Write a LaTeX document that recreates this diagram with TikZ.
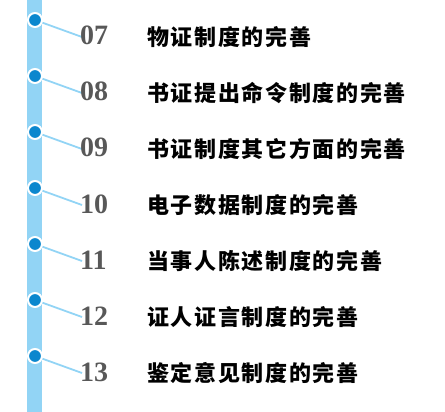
\documentclass[tikz,border=0pt]{standalone}
\usepackage{fontspec}
\newfontfamily\cjk[LetterSpace=7.5]{Noto Sans CJK SC}
\setmainfont{Liberation Serif}
\definecolor{barblue}{HTML}{92D4F5}
\definecolor{dotblue}{HTML}{0B87CE}
\definecolor{numgray}{HTML}{585858}
\begin{document}
\begin{tikzpicture}[x=1pt,y=-1pt,
  numlabel/.style={anchor=base west,inner sep=0pt,text=numgray,font=\fontsize{28}{28}\selectfont\bfseries},
  itemtext/.style={anchor=west,inner sep=0pt,text=black,font=\cjk\fontsize{22}{22}\selectfont\bfseries},
  dot/.style={circle,fill=dotblue,draw=white,line width=2pt,minimum size=14pt,inner sep=0pt},
  link/.style={draw=barblue,line width=1.8pt}]
\useasboundingbox (0,0) rectangle (445,412);
\fill[barblue] (27,0) rectangle (42,412);
\foreach \i/\n/\t in {0/07/物证制度的完善,1/08/书证提出命令制度的完善,2/09/书证制度其它方面的完善,3/10/电子数据制度的完善,4/11/当事人陈述制度的完善,5/12/证人证言制度的完善,6/13/鉴定意见制度的完善}{
  \pgfmathsetmacro{\cy}{20+56*\i}
  \coordinate (e\i) at (82,\cy+17);
  \draw[link] (35,\cy) -- (e\i);
  \node[dot] (d\i) at (35,\cy) {};
  \node[numlabel] (n\i) at (80,\cy+25) {\n};
  \node[itemtext] (t\i) at (147,\cy+17) {\t};
}
\end{tikzpicture}
\end{document}
